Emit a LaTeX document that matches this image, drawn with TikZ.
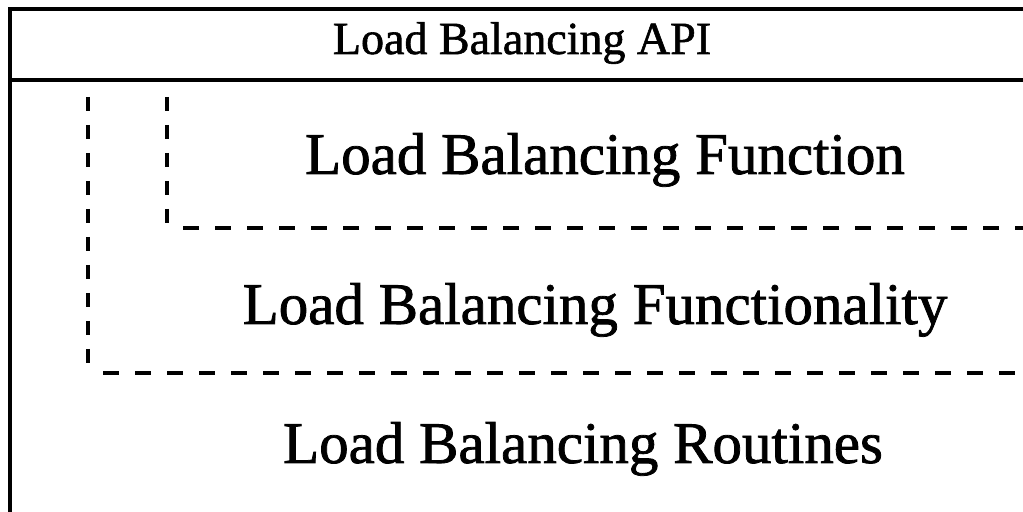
\documentclass[tikz,border=0pt]{standalone}
\usepackage{fontspec}
\setmainfont{Liberation Serif}[FakeBold=1.2]
\newfontfamily\heavyserif{Liberation Serif}[FakeBold=1.3]
\begin{document}
\begin{tikzpicture}[x=0.5pt,y=-0.5pt,
  frame/.style={line width=2pt,black},
  dashv/.style={line width=1.6pt,dash pattern=on 7pt off 7pt},
  dashh/.style={line width=1.6pt,dash pattern=on 8pt off 8pt},
  titletext/.style={anchor=base,inner sep=0pt,font=\heavyserif\fontsize{23pt}{26pt}\selectfont},
  layertext/.style={anchor=base,inner sep=0pt,font=\heavyserif\fontsize{29.5pt}{34pt}\selectfont}]
  \useasboundingbox (0,0) rectangle (1023,512);
  \clip (0,0) rectangle (1023,512);
  % outer frame, open to the right and bottom
  \draw[frame] (10,530) -- (10,9) -- (1040,9);
  \draw[line width=1.6pt] (10,80) -- (1040,80);
  % nested layer boundaries
  \draw[dashv] (88,97) -- (88,373);
  \draw[dashh] (103,373) -- (1040,373);
  \draw[dashv] (167,97) -- (167,228);
  \draw[dashh] (183,228) -- (1040,228);
  % labels
  \node[titletext] (api) at (522,54) {Load Balancing API};
  \node[layertext] (func) at (605,174) {Load Balancing Function};
  \node[layertext] (funcy) at (595,324) {Load Balancing Functionality};
  \node[layertext] (routines) at (583,463) {Load Balancing Routines};
\end{tikzpicture}
\end{document}
